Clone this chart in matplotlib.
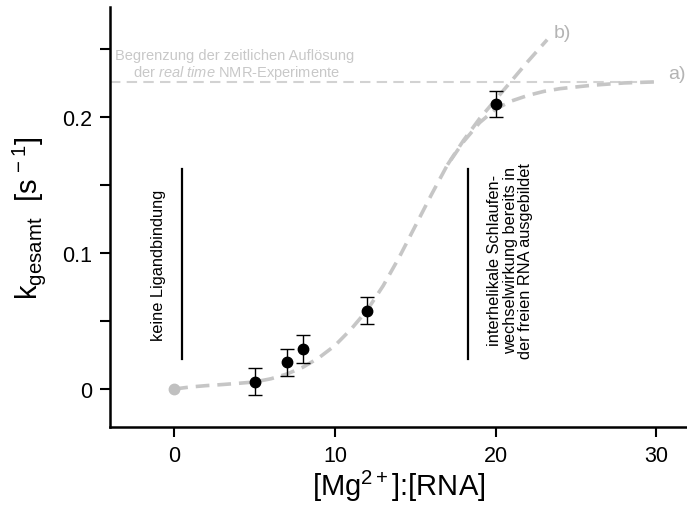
import numpy as np
import matplotlib
matplotlib.use('Agg')
import matplotlib.pyplot as plt

plt.rcParams['font.family'] = ['Liberation Sans', 'DejaVu Sans']
plt.rcParams['mathtext.fontset'] = 'custom'
plt.rcParams['mathtext.rm'] = 'Liberation Sans'
plt.rcParams['mathtext.it'] = 'Liberation Sans:italic'
plt.rcParams['mathtext.default'] = 'regular'

# measured rates
mg_ratio = [5, 7, 8, 12, 20]
k_total = [0.0054, 0.0196, 0.0294, 0.0576, 0.210]
k_err = [0.010, 0.010, 0.010, 0.0098, 0.0096]

# fit curve a) (read off the picture)
fit_a_x = [0, 1, 2, 3, 4, 5, 6, 7, 8, 9, 10, 11, 12, 13, 14, 15, 16, 17,
           18, 19, 20, 21, 22, 23, 24, 26, 28, 30]
fit_a_y = [0.0, 0.0015, 0.0025, 0.0033, 0.0042, 0.0052, 0.0075, 0.011,
           0.016, 0.023, 0.032, 0.044, 0.058, 0.076, 0.097, 0.12, 0.143,
           0.165, 0.182, 0.196, 0.206, 0.212, 0.216, 0.219, 0.221,
           0.2235, 0.2252, 0.226]

# fit curve b)
fit_b_x = [17, 18, 19, 20, 21, 22, 23.2]
fit_b_y = [0.165, 0.183, 0.199, 0.213, 0.227, 0.241, 0.257]

time_limit = 0.226
xticks = [0, 10, 20, 30]
yticks = [0, 0.05, 0.1, 0.15, 0.2, 0.25]
yticklabels = ['0', '', '0.1', '', '0.2', '']

fig = plt.figure(figsize=(6.87, 5.06), dpi=100)
ax = fig.add_axes([0.160, 0.154, 0.840, 0.830])

grey = '#c6c6c6'
ax.plot([-4, 30], [time_limit, time_limit], color='#d2d2d2', lw=1.5,
        dashes=(5, 3), zorder=1)
ax.plot(fit_b_x, fit_b_y, color=grey, lw=2.6, dashes=(3.8, 2.2), zorder=2)
ax.plot(fit_a_x, fit_a_y, color=grey, lw=2.6, dashes=(3.8, 2.2), zorder=2)
ax.plot([0], [0], 'o', color='#c0c0c0', ms=7.5, zorder=3)

ax.errorbar(mg_ratio, k_total, yerr=k_err, fmt='o', color='black', ms=7.5,
            elinewidth=1.0, capsize=5, capthick=1.0, zorder=4)

ax.text(30.7, time_limit, 'a)', color='#b4b4b4', fontsize=14,
        ha='left', va='bottom')
ax.text(23.6, 0.256, 'b)', color='#b4b4b4', fontsize=14,
        ha='left', va='bottom')
ax.text(3.75, 0.246, 'Begrenzung der zeitlichen Auflösung', color='#c8c8c8',
        fontsize=10.5, ha='center', va='center')
ax.text(3.85, 0.2335, r'der $\mathit{real\ time}$ NMR-Experimente',
        color='#c8c8c8', fontsize=10.5, ha='center', va='center')

ax.plot([0.48, 0.48], [0.022, 0.162], color='black', lw=1.6)
ax.text(-1.0, 0.092, 'keine Ligandbindung', rotation=90, fontsize=11.8,
        ha='center', va='center')
ax.plot([18.26, 18.26], [0.022, 0.162], color='black', lw=1.6)
ax.text(20.9, 0.095, 'interhelikale Schlaufen-\nwechselwirkung bereits in\n'
        'der freien RNA ausgebildet', rotation=90, fontsize=11.8,
        ha='center', va='center', linespacing=1.05)

ax.set_xlim(-4, 31.9)
ax.set_ylim(-0.028, 0.281)
ax.set_xticks(xticks)
ax.set_yticks(yticks)
ax.set_yticklabels(yticklabels)
ax.tick_params(direction='out', length=7, width=1.5, labelsize=15.5, pad=6)
for s in ['top', 'right']:
    ax.spines[s].set_visible(False)
for s in ['left', 'bottom']:
    ax.spines[s].set_linewidth(1.8)

ax.set_xlabel('[Mg$^{2+}$]:[RNA]', fontsize=21, labelpad=1)
ax.set_ylabel('k$_{gesamt}$  [s$^{\\,-1}$]', fontsize=21, labelpad=10)

fig.savefig('out.png', dpi=100)
